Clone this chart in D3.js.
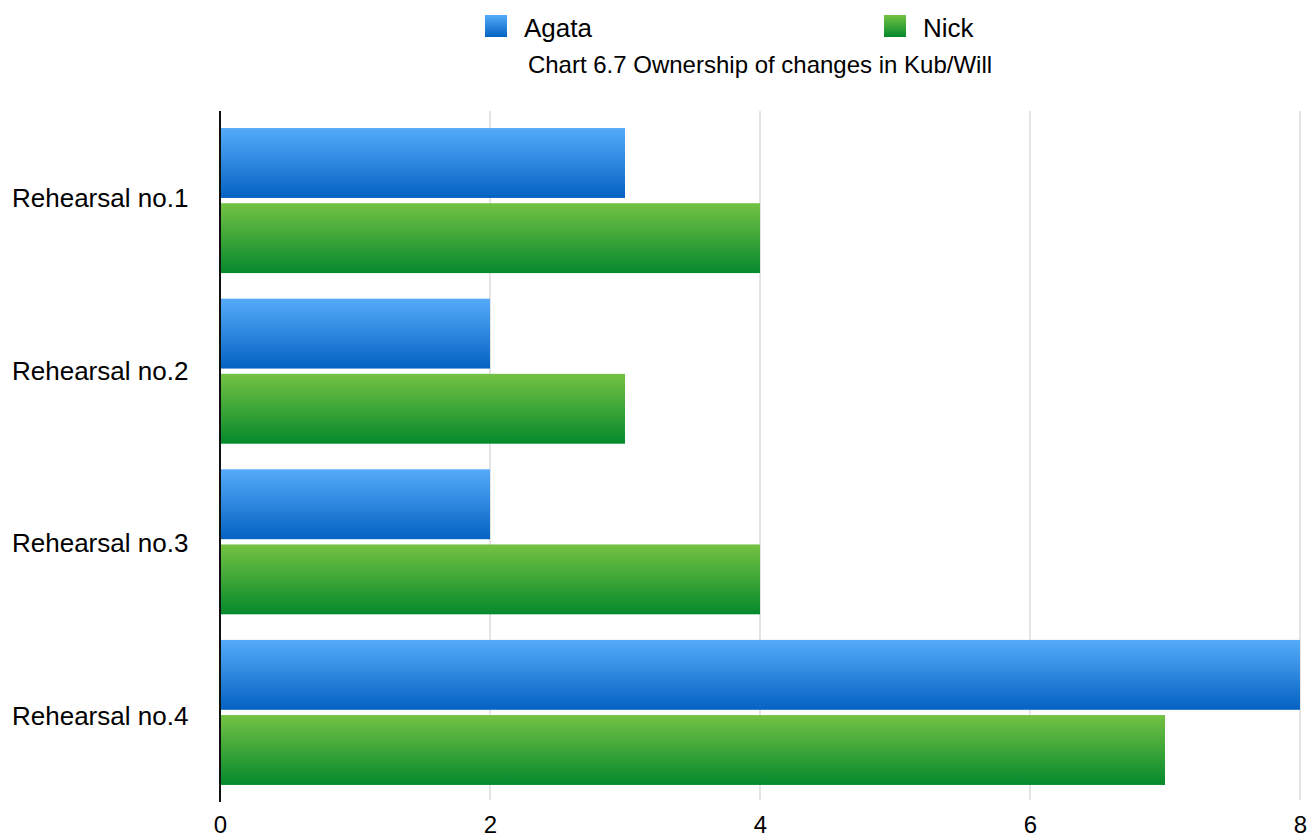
<!DOCTYPE html>
<html>
<head>
<meta charset="utf-8">
<script src="https://cdn.jsdelivr.net/npm/d3@7"></script>
<style>
  html, body { margin: 0; padding: 0; background: #fff; }
  svg { display: block; font-family: "Liberation Sans", Arial, Helvetica, sans-serif; }
</style>
</head>
<body>
<svg id="chart" width="1315" height="837"></svg>
<script>
const categories = ["Rehearsal no.1", "Rehearsal no.2", "Rehearsal no.3", "Rehearsal no.4"];
const seriesNames = ["Agata", "Nick"];
const agataValues = [3, 2, 2, 8];
const nickValues = [4, 3, 4, 7];
const xTicks = [0, 2, 4, 6, 8];
const chartTitle = "Chart 6.7 Ownership of changes in Kub/Will";

const seriesValues = [agataValues, nickValues];
const colors = [
  { top: "#55abf9", bottom: "#0462c2" },
  { top: "#74c243", bottom: "#05892c" }
];

const svg = d3.select("#chart");
const defs = svg.append("defs");
colors.forEach((c, i) => {
  const g = defs.append("linearGradient").attr("id", "grad" + i)
    .attr("x1", 0).attr("y1", 0).attr("x2", 0).attr("y2", 1);
  g.append("stop").attr("offset", "0%").attr("stop-color", c.top);
  g.append("stop").attr("offset", "100%").attr("stop-color", c.bottom);
});

const plot = { left: 220, right: 1300, top: 111, bottom: 802 };

const x = d3.scaleLinear().domain([0, 8]).range([plot.left, plot.right]);
const y = d3.scaleBand().domain(categories).range([plot.top, plot.bottom])
  .paddingInner(0.15).paddingOuter(0.1);
const yLabel = d3.scaleBand().domain(categories).range([plot.top, plot.bottom]).padding(0);
const ySub = d3.scaleBand().domain(seriesNames).range([0, y.bandwidth()]).paddingInner(0.07);

// gridlines
svg.append("g").selectAll("line").data(xTicks.filter(d => d > 0)).join("line")
  .attr("x1", d => x(d)).attr("x2", d => x(d))
  .attr("y1", plot.top).attr("y2", plot.bottom - 2)
  .attr("stroke", "#d3d3d3").attr("stroke-width", 1.2);

// bars
const groups = svg.append("g").selectAll("g").data(categories).join("g")
  .attr("transform", d => `translate(0,${y(d)})`);
groups.selectAll("rect")
  .data((d, ci) => seriesNames.map((s, si) => ({ s, si, v: seriesValues[si][ci] })))
  .join("rect")
  .attr("x", x(0) + 1)
  .attr("y", d => ySub(d.s))
  .attr("width", d => x(d.v) - x(0) - 1)
  .attr("height", ySub.bandwidth())
  .attr("fill", d => `url(#grad${d.si})`);

// y axis line
svg.append("line")
  .attr("x1", plot.left).attr("x2", plot.left)
  .attr("y1", plot.top).attr("y2", plot.bottom)
  .attr("stroke", "#111").attr("stroke-width", 2);

// x tick labels
const xAxis = d3.axisBottom(x).tickValues(xTicks).tickSize(0).tickPadding(0).tickFormat(d3.format("d"));
const xg = svg.append("g").attr("transform", `translate(0,${plot.bottom})`).call(xAxis);
xg.select(".domain").remove();
xg.selectAll("text").attr("font-size", 24).attr("fill", "#000")
  .attr("font-family", "Liberation Sans, Arial, sans-serif")
  .attr("dy", null).attr("y", 30.5);

// category labels
const yAxis = d3.axisLeft(yLabel).tickSize(0).tickPadding(0);
const yg = svg.append("g").call(yAxis);
yg.select(".domain").remove();
yg.selectAll("text").attr("font-size", 26).attr("fill", "#000")
  .attr("font-family", "Liberation Sans, Arial, sans-serif")
  .attr("text-anchor", "start").attr("x", 12).attr("dy", "0.36em");

// legend
const legendX = [485, 884];
const legend = svg.append("g").selectAll("g").data(seriesNames).join("g")
  .attr("transform", (d, i) => `translate(${legendX[i]},15)`);
legend.append("rect").attr("width", 22).attr("height", 22)
  .attr("fill", (d, i) => `url(#grad${i})`);
legend.append("text").attr("x", 39).attr("y", 22).attr("font-size", 26)
  .attr("fill", "#000").text(d => d);

// title
svg.append("text").attr("x", 760).attr("y", 73).attr("text-anchor", "middle")
  .attr("font-size", 24).attr("fill", "#000").text(chartTitle);
</script>
</body>
</html>
